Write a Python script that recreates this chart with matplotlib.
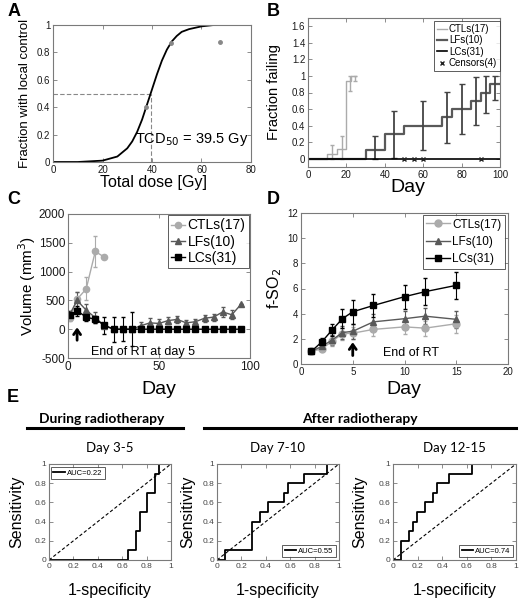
import matplotlib
matplotlib.use('Agg')
import matplotlib.pyplot as plt
from matplotlib.lines import Line2D
from matplotlib.ticker import FormatStrFormatter

plt.rcParams['font.family'] = ['Liberation Sans', 'DejaVu Sans']
plt.rcParams['axes.linewidth'] = 0.8

# ---- data ----
# A: dose response
dose_fit = [0, 10, 20, 24, 26, 28, 30, 32, 34, 36, 38, 40, 42, 44, 46, 48, 50, 52, 55, 60, 65, 70, 80]
frac_fit = [0, 0, 0.01, 0.03, 0.04, 0.07, 0.10, 0.15, 0.22, 0.31, 0.42, 0.53, 0.64, 0.74, 0.82,
            0.88, 0.92, 0.95, 0.97, 0.99, 1.0, 1.0, 1.0]
dose_obs = [37.5, 47.5, 67.5]
frac_obs = [0.4, 0.87, 0.875]
tcd50 = 39.5

# B: fraction failing (Kaplan-Meier steps)
ctl_t = [0, 10, 15, 20, 22.5, 25]
ctl_f = [0, 0.059, 0.118, 0.941, 1.0, 1.0]
ctl_eb_t = [12.5, 17.5, 22, 24.5]
ctl_eb_y = [0.059, 0.118, 0.941, 1.0]
ctl_eb_lo = [0, 0, 0.82, 0.94]
ctl_eb_hi = [0.17, 0.27, 1.0, 1.0]
lf_t = [0, 30, 40, 50, 70, 75, 85, 90, 95, 100]
lf_f = [0, 0.1, 0.3, 0.4, 0.5, 0.6, 0.7, 0.8, 0.9, 0.9]
lf_eb_t = [35, 45, 60, 72.5, 80, 87.5, 92.5, 97.5]
lf_eb_y = [0.1, 0.3, 0.4, 0.5, 0.6, 0.7, 0.8, 0.9]
lf_eb_lo = [0, 0.01, 0.1, 0.19, 0.3, 0.41, 0.55, 0.71]
lf_eb_hi = [0.28, 0.58, 0.7, 0.81, 0.9, 0.99, 1.0, 1.0]
lc_t = [0, 100]
lc_f = [0, 0]
censor_t = [50, 55, 60, 90]

# C: tumour volume
ctl_days = [1, 5, 10, 15, 20]
ctl_vol = [200, 520, 700, 1350, 1250]
ctl_vol_err = [60, 130, 200, 270, 0]
vol_days = [1, 5, 10, 15, 20, 25, 30, 35, 40, 45, 50, 55, 60, 65, 70, 75, 80, 85, 90, 95]
lf_vol = [260, 500, 330, 200, 60, 0, 0, 0, 60, 110, 100, 150, 170, 110, 130, 190, 210, 300, 250, 430]
lf_vol_err = [60, 140, 110, 90, 0, 0, 0, 0, 60, 80, 70, 60, 60, 50, 50, 60, 60, 80, 80, 0]
lc_vol = [240, 320, 210, 170, 70, 0, 0, 0, 0, 0, 0, 0, 0, 0, 0, 0, 0, 0, 0, 0]
lc_vol_err = [70, 90, 70, 60, 150, 220, 210, 290, 0, 0, 0, 0, 0, 0, 0, 0, 0, 0, 0, 0]

# D: f-SO2
so2_days = [1, 2, 3, 4, 5, 7, 10, 12, 15]
ctl_so2 = [1.0, 1.2, 1.8, 2.4, 2.45, 2.75, 2.95, 2.85, 3.2]
ctl_so2_err = [0.05, 0.2, 0.4, 0.5, 0.5, 0.5, 0.6, 0.6, 0.7]
lf_so2 = [1.0, 1.4, 1.9, 2.5, 2.6, 3.35, 3.6, 3.8, 3.55]
lf_so2_err = [0.05, 0.3, 0.4, 0.5, 0.6, 0.6, 0.6, 0.65, 0.65]
lc_so2 = [1.0, 1.75, 2.7, 3.6, 4.15, 4.65, 5.35, 5.75, 6.25]
lc_so2_err = [0.05, 0.35, 0.5, 0.75, 0.95, 0.9, 0.95, 1.05, 1.1]

# E: ROC curves (vertices)
roc_titles = ['Day 3-5', 'Day 7-10', 'Day 12-15']
roc_auc = ['AUC=0.22', 'AUC=0.55', 'AUC=0.74']
roc_fpr = [
    [0, 0.645, 0.645, 0.71, 0.71, 0.742, 0.742, 0.806, 0.806, 0.871, 0.871, 0.903, 0.903, 1],
    [0, 0.065, 0.065, 0.29, 0.29, 0.355, 0.355, 0.419, 0.419, 0.548, 0.548, 0.58, 0.58,
     0.71, 0.71, 0.903, 0.903, 1],
    [0, 0.065, 0.065, 0.129, 0.129, 0.161, 0.161, 0.194, 0.194, 0.258, 0.258, 0.323, 0.323,
     0.355, 0.355, 0.452, 0.452, 0.645, 0.645, 1],
]
roc_tpr = [
    [0, 0, 0.1, 0.1, 0.3, 0.3, 0.5, 0.5, 0.7, 0.7, 0.9, 0.9, 1, 1],
    [0, 0, 0.1, 0.1, 0.4, 0.4, 0.5, 0.5, 0.6, 0.6, 0.7, 0.7, 0.8, 0.8, 0.9, 0.9, 1, 1],
    [0, 0, 0.2, 0.2, 0.3, 0.3, 0.4, 0.4, 0.5, 0.5, 0.6, 0.6, 0.7, 0.7, 0.8, 0.8, 0.9, 0.9, 1, 1],
]

# ---- layout helpers (pixel coords, origin top-left) ----
W, H = 520, 601
fig = plt.figure(figsize=(W / 100, H / 100), dpi=100)

C_CTL = '#ababab'
C_LF = '#595959'
FRAME = '#7a7a7a'


def add_box(l, r, t, b):
    return fig.add_axes([l / W, 1 - b / H, (r - l) / W, (b - t) / H])


def to_axes(ax, x, y):
    bb = ax.get_position()
    return (x / W - bb.x0) / bb.width, (1 - y / H - bb.y0) / bb.height


def style(ax, size):
    for s in ax.spines.values():
        s.set_color(FRAME)
    ax.tick_params(direction='in', top=True, right=True, length=3, width=0.6,
                   color=FRAME, labelsize=size, labelcolor='#1a1a1a', pad=2)
    ax.xaxis.set_major_formatter(FormatStrFormatter('%g'))
    ax.yaxis.set_major_formatter(FormatStrFormatter('%g'))


def xlab(ax, text, x, y, size):
    ax.set_xlabel(text, fontsize=size, va='center', ha='center')
    ax.xaxis.set_label_coords(*to_axes(ax, x, y))


def ylab(ax, text, x, y, size):
    ax.set_ylabel(text, fontsize=size, va='center', ha='center')
    ax.yaxis.set_label_coords(*to_axes(ax, x, y))


def legend_at(ax, handles, labels, loc, x, y, size, **kw):
    leg = ax.legend(handles, labels, loc=loc, bbox_to_anchor=(x / W, 1 - y / H),
                    bbox_transform=fig.transFigure, fontsize=size, frameon=True,
                    fancybox=False, borderaxespad=0, **kw)
    leg.get_frame().set_edgecolor('#333333')
    leg.get_frame().set_linewidth(0.7)
    return leg


def panel_letter(x, y, s):
    fig.text(x / W, 1 - y / H, s, fontsize=13, fontweight='bold', ha='center', va='center')


# ---- A ----
ax = add_box(53, 251, 25, 162)
ax.plot([0, tcd50], [0.5, 0.5], color='#888888', lw=0.8, ls=(0, (4, 2)))
ax.plot([tcd50, tcd50], [0, 0.5], color='#888888', lw=0.8, ls=(0, (4, 2)))
ax.plot(dose_fit, frac_fit, color='k', lw=1.3)
ax.plot(dose_obs, frac_obs, ls='none', marker='o', ms=2.5, color='#888888')
ax.set_xlim(0, 80)
ax.set_ylim(0, 1)
ax.set_xticks([0, 20, 40, 60, 80])
ax.set_yticks([0, 0.2, 0.4, 0.6, 0.8, 1])
style(ax, 7)
ax.text(33.3, 0.165, 'TCD$_{50}$ = 39.5 Gy', fontsize=10.5, va='center', ha='left')
xlab(ax, 'Total dose [Gy]', 153, 182, 11.5)
ylab(ax, 'Fraction with local control', 25, 93, 9.5)
panel_letter(14, 12, 'A')

# ---- B ----
ax = add_box(308, 500, 18, 167)
ax.step(ctl_t, ctl_f, where='post', color=C_CTL, lw=1.0)
ax.errorbar(ctl_eb_t, ctl_eb_y,
            yerr=[[y - l for y, l in zip(ctl_eb_y, ctl_eb_lo)],
                  [h - y for y, h in zip(ctl_eb_y, ctl_eb_hi)]],
            fmt='none', ecolor=C_CTL, elinewidth=1.0, capsize=1.5)
ax.step(lf_t, lf_f, where='post', color=C_LF, lw=1.6)
ax.errorbar(lf_eb_t, lf_eb_y,
            yerr=[[y - l for y, l in zip(lf_eb_y, lf_eb_lo)],
                  [h - y for y, h in zip(lf_eb_y, lf_eb_hi)]],
            fmt='none', ecolor='#444444', elinewidth=1.3, capsize=2)
ax.plot(lc_t, lc_f, color='k', lw=1.2)
ax.plot(censor_t, [0] * len(censor_t), ls='none', marker='x', ms=3.5, mew=1, color='#222222')
ax.set_xlim(0, 100)
ax.set_ylim(-0.1, 1.7)
ax.set_xticks([0, 20, 40, 60, 80, 100])
ax.set_yticks([0, 0.2, 0.4, 0.6, 0.8, 1, 1.2, 1.4, 1.6])
style(ax, 7)
xlab(ax, 'Day', 408, 187, 14)
ylab(ax, 'Fraction failing', 274, 92, 10.5)
hb = [Line2D([], [], color=C_CTL, lw=1.0), Line2D([], [], color=C_LF, lw=1.6),
      Line2D([], [], color='k', lw=1.2),
      Line2D([], [], ls='none', marker='x', ms=3.5, mew=1, color='#222222')]
legend_at(ax, hb, ['CTLs(17)', 'LFs(10)', 'LCs(31)', 'Censors(4)'], 'upper right', 500, 21, 7,
          handlelength=1.0, handletextpad=0.2, labelspacing=0.15, borderpad=0.3)
panel_letter(273, 12, 'B')

# ---- C ----
ax = add_box(68, 250, 214, 358)
ax.errorbar(ctl_days, ctl_vol, yerr=ctl_vol_err, color=C_CTL, marker='o', ms=4.5, lw=1.0,
            elinewidth=0.8, capsize=1.5)
ax.errorbar(vol_days, lf_vol, yerr=lf_vol_err, color=C_LF, marker='^', ms=4.5, lw=1.0,
            elinewidth=0.8, capsize=1.5)
ax.errorbar(vol_days, lc_vol, yerr=lc_vol_err, color='k', marker='s', ms=3.8, lw=1.0,
            elinewidth=0.8, capsize=1.5)
ax.annotate('', xy=(5, 80), xytext=(5, -240),
            arrowprops=dict(arrowstyle='->,head_length=0.35,head_width=0.25', lw=2, color='k'))
ax.text(41, -400, 'End of RT at day 5', fontsize=9, ha='center', va='center')
ax.set_xlim(0, 100)
ax.set_ylim(-500, 2000)
ax.set_xticks([0, 50, 100])
ax.set_yticks([-500, 0, 500, 1000, 1500, 2000])
style(ax, 8.5)
xlab(ax, 'Day', 159, 389, 14)
ylab(ax, 'Volume (mm$^3$)', 27, 286, 11)
hc = [Line2D([], [], color=C_CTL, marker='o', ms=4.5, lw=1.0),
      Line2D([], [], color=C_LF, marker='^', ms=4.5, lw=1.0),
      Line2D([], [], color='k', marker='s', ms=3.8, lw=1.0)]
legend_at(ax, hc, ['CTLs(17)', 'LFs(10)', 'LCs(31)'], 'upper right', 249, 215, 10,
          handlelength=1.0, handletextpad=0.2, labelspacing=0.15, borderpad=0.25)
panel_letter(14, 200, 'C')

# ---- D ----
ax = add_box(301, 508, 213, 364)
ax.errorbar(so2_days, ctl_so2, yerr=ctl_so2_err, color=C_CTL, marker='o', ms=5, lw=1.0,
            elinewidth=0.8, capsize=1.5)
ax.errorbar(so2_days, lf_so2, yerr=lf_so2_err, color=C_LF, marker='^', ms=5, lw=1.0,
            elinewidth=0.8, capsize=1.5)
ax.errorbar(so2_days, lc_so2, yerr=lc_so2_err, color='k', marker='s', ms=5, lw=1.0,
            elinewidth=0.8, capsize=1.5)
ax.annotate('', xy=(5, 1.95), xytext=(5, 0.45),
            arrowprops=dict(arrowstyle='->,head_length=0.35,head_width=0.25', lw=2, color='k'))
ax.text(10.6, 0.9, 'End of RT', fontsize=9, ha='center', va='center')
ax.set_xlim(0, 20)
ax.set_ylim(0, 12)
ax.set_xticks([0, 5, 10, 15, 20])
ax.set_yticks([0, 2, 4, 6, 8, 10, 12])
style(ax, 7)
xlab(ax, 'Day', 404, 389, 14)
ylab(ax, 'f-SO$_2$', 275, 288, 11.5)
hd = [Line2D([], [], color=C_CTL, marker='o', ms=5, lw=1.0),
      Line2D([], [], color=C_LF, marker='^', ms=5, lw=1.0),
      Line2D([], [], color='k', marker='s', ms=5, lw=1.0)]
legend_at(ax, hd, ['CTLs(17)', 'LFs(10)', 'LCs(31)'], 'upper right', 505, 215, 8.5,
          handlelength=2.0, handletextpad=0.2, labelspacing=0.45, borderpad=0.3)
panel_letter(273, 200, 'D')

# ---- E ----
panel_letter(13, 398, 'E')
fig.text(102 / W, 1 - 419 / H, 'During radiotherapy', fontsize=10, fontweight='bold',
         family=['Lato', 'DejaVu Sans'], ha='center', va='center')
fig.text(360 / W, 1 - 419 / H, 'After radiotherapy', fontsize=10, fontweight='bold',
         family=['Lato', 'DejaVu Sans'], ha='center', va='center')
fig.add_artist(Line2D([27 / W, 183 / W], [1 - 428 / H] * 2, color='k', lw=2.2))
fig.add_artist(Line2D([204 / W, 516 / W], [1 - 428 / H] * 2, color='k', lw=2.2))

e_boxes = [(49, 171), (217, 339), (393, 516)]
e_ylab_x = [17, 188, 360]
for i, (l, r) in enumerate(e_boxes):
    ax = add_box(l, r, 464, 560)
    ax.plot([0, 1], [0, 1], color='k', lw=0.8, ls=(0, (3, 2)))
    line, = ax.plot(roc_fpr[i], roc_tpr[i], color='k', lw=1.3)
    ax.set_xlim(0, 1)
    ax.set_ylim(0, 1)
    ax.set_xticks([0, 0.2, 0.4, 0.6, 0.8, 1])
    ax.set_yticks([0, 0.2, 0.4, 0.6, 0.8, 1])
    style(ax, 6)
    ax.tick_params(labelcolor='#444444')
    ax.set_title(roc_titles[i], fontsize=9.5, family=['Lato', 'DejaVu Sans'], pad=9)
    xlab(ax, '1-specificity', (l + r) / 2, 590, 11.5)
    ylab(ax, 'Sensitivity', e_ylab_x[i], 512, 11.5)
    if i == 0:
        legend_at(ax, [line], [roc_auc[i]], 'upper left', l + 2, 467, 5.5,
                  handlelength=1.5, handletextpad=0.3, borderpad=0.3)
    else:
        legend_at(ax, [line], [roc_auc[i]], 'lower right', r - 3, 557, 5.5,
                  handlelength=1.5, handletextpad=0.3, borderpad=0.3)

fig.savefig('out.png', dpi=100)
